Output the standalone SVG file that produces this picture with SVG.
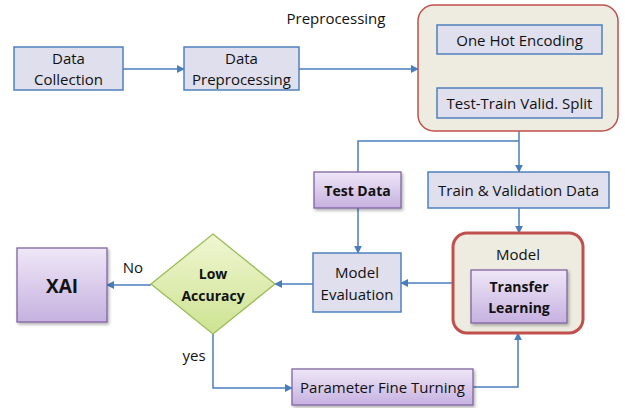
<svg xmlns="http://www.w3.org/2000/svg" width="625" height="408" viewBox="0 0 625 408">
  <defs>
    <linearGradient id="purpleFill" x1="0" y1="0" x2="0" y2="1">
      <stop offset="0" stop-color="#EFE7F7"/>
      <stop offset="1" stop-color="#C6B1E0"/>
    </linearGradient>
    <linearGradient id="greenFill" x1="0" y1="0" x2="0" y2="1">
      <stop offset="0" stop-color="#F0F6D2"/>
      <stop offset="1" stop-color="#CDE391"/>
    </linearGradient>
    <filter id="shadow" x="-10%" y="-10%" width="130%" height="130%">
      <feDropShadow dx="1.5" dy="2" stdDeviation="1.5" flood-color="#000" flood-opacity="0.3"/>
    </filter>
    <marker id="arrow" viewBox="0 0 10 10" refX="9" refY="5" markerWidth="8" markerHeight="8" markerUnits="userSpaceOnUse" orient="auto">
      <path d="M0,0 L10,5 L0,10 z" fill="#4A7EBB"/>
    </marker>
    <style>
      text { font-family: "Open Sans", "Noto Sans", "Liberation Sans", sans-serif; font-size: 15px; fill: #111; text-anchor: middle; dominant-baseline: central; }
      .bold { font-weight: bold; font-size: 14px; }
      .step { fill: #DFDFEE; stroke: #4F81BD; stroke-width: 1.5; }
      .accent { fill: url(#purpleFill); stroke: #8064A2; stroke-width: 1.3; filter: url(#shadow); }
      .group { fill: #EEECE1; stroke: #C0504D; }
      .decision { fill: url(#greenFill); stroke: #9BBB59; stroke-width: 1.3; }
      .conn { fill: none; stroke: #4A7EBB; stroke-width: 1.5; }
    </style>
  </defs>

  <text x="336" y="18">Preprocessing</text>

  <g id="connectors">
    <line class="conn" x1="123" y1="69" x2="184" y2="69" marker-end="url(#arrow)"/>
    <line class="conn" x1="299" y1="69" x2="418" y2="69" marker-end="url(#arrow)"/>
    <line class="conn" x1="519" y1="54" x2="519" y2="88" marker-end="url(#arrow)"/>
    <line class="conn" x1="519" y1="131" x2="519" y2="172" marker-end="url(#arrow)"/>
    <polyline class="conn" points="519,141 358,141 358,172"/>
    <line class="conn" x1="358" y1="208" x2="358" y2="253" marker-end="url(#arrow)"/>
    <line class="conn" x1="519" y1="208" x2="519" y2="233" marker-end="url(#arrow)"/>
    <line class="conn" x1="453" y1="283" x2="401" y2="283" marker-end="url(#arrow)"/>
    <line class="conn" x1="313" y1="284" x2="275" y2="284" marker-end="url(#arrow)"/>
    <line class="conn" x1="151" y1="285" x2="107" y2="285" marker-end="url(#arrow)"/>
    <polyline class="conn" points="213,334 213,388 292,388" marker-end="url(#arrow)"/>
    <polyline class="conn" points="473,387 518,387 518,333" marker-end="url(#arrow)"/>
  </g>

  <g id="data-collection">
    <rect class="step" x="14" y="47" width="109" height="43"/>
    <text x="68.5" y="58">Data</text>
    <text x="68.5" y="79">Collection</text>
  </g>

  <g id="data-preprocessing">
    <rect class="step" x="184" y="47" width="115" height="43"/>
    <text x="241.5" y="58">Data</text>
    <text x="241.5" y="79">Preprocessing</text>
  </g>

  <g id="preprocessing-group">
    <rect class="group" x="418" y="5" width="200" height="126" rx="16" stroke-width="1.5"/>
  </g>

  <g id="one-hot-encoding">
    <rect class="step" x="437" y="25" width="165" height="29"/>
    <text x="519.5" y="40">One Hot Encoding</text>
  </g>

  <g id="test-train-split">
    <rect class="step" x="437" y="88" width="165" height="30"/>
    <text x="519.5" y="103">Test-Train Valid. Split</text>
  </g>

  <g id="test-data">
    <rect class="accent" x="314" y="172" width="87" height="36"/>
    <text class="bold" x="357.5" y="190">Test Data</text>
  </g>

  <g id="train-validation-data">
    <rect class="step" x="428" y="172" width="181" height="36"/>
    <text x="518.5" y="190">Train &amp; Validation Data</text>
  </g>

  <g id="model-evaluation">
    <rect class="step" x="313" y="253" width="88" height="59"/>
    <text x="357" y="272">Model</text>
    <text x="357" y="294">Evaluation</text>
  </g>

  <g id="model">
    <rect class="group" x="453" y="233" width="130" height="100" rx="14" stroke-width="3"/>
    <text x="518" y="254">Model</text>
  </g>

  <g id="transfer-learning">
    <rect class="accent" x="471" y="270" width="96" height="53"/>
    <text class="bold" x="519" y="286">Transfer</text>
    <text class="bold" x="519" y="307">Learning</text>
  </g>

  <g id="low-accuracy">
    <polygon class="decision" points="213,234 275,284 213,334 151,284"/>
    <text class="bold" x="213" y="273">Low</text>
    <text class="bold" x="213" y="295">Accuracy</text>
  </g>

  <g id="xai">
    <rect class="accent" x="17" y="248" width="90" height="74"/>
    <text class="bold" x="62" y="286" style="font-size:19px">XAI</text>
  </g>

  <g id="parameter-fine-tuning">
    <rect class="accent" x="292" y="369" width="181" height="36"/>
    <text x="382.5" y="387">Parameter Fine Turning</text>
  </g>

  <g id="branch-labels">
    <text x="133" y="267">No</text>
    <text x="194" y="355">yes</text>
  </g>
</svg>
